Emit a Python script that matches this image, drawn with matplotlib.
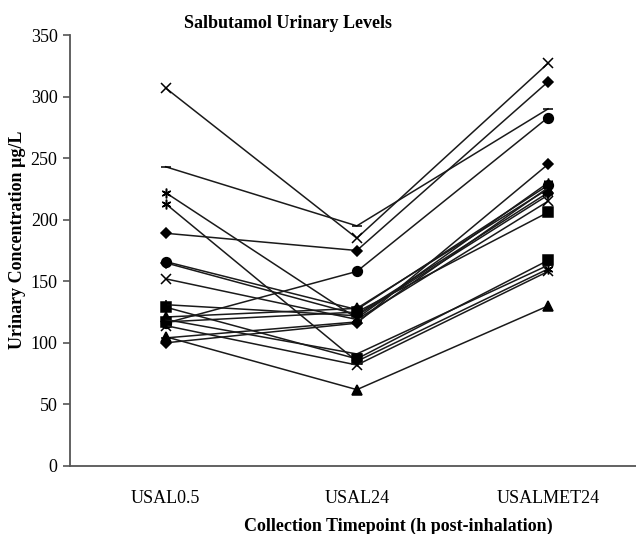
import matplotlib
matplotlib.use('Agg')
import matplotlib.pyplot as plt

plt.rcParams['font.family'] = ['Liberation Serif', 'DejaVu Serif']

# collection timepoints
timepoints = ['USAL0.5', 'USAL24', 'USALMET24']

# one row per subject: USAL0.5, USAL24, USALMET24 (ug/L)
subj_x1 = [307, 185, 327]
subj_dash1 = [243, 195, 290]
subj_star1 = [222, 120, 230]
subj_star2 = [213, 85, 160]
subj_dia1 = [189, 175, 312]
subj_circ1 = [166, 127, 228]
subj_dia2 = [165, 123, 222]
subj_x2 = [152, 119, 215]
subj_sq1 = [129, 87, 167]
subj_plus1 = [131, 122, 220]
subj_tri1 = [121, 128, 225]
subj_circ2 = [116, 158, 283]
subj_sq2 = [117, 125, 206]
subj_x3 = [114, 82, 158]
subj_dash2 = [119, 91, 163]
subj_tri2 = [105, 62, 130]
subj_plus2 = [104, 117, 226]
subj_dia3 = [100, 116, 245]

subjects = [
    (subj_x1, 'x'), (subj_dash1, '_'), (subj_star1, (6, 2, 0)), (subj_star2, (6, 2, 0)),
    (subj_dia1, 'D'), (subj_circ1, 'o'), (subj_dia2, 'D'), (subj_x2, 'x'),
    (subj_sq1, 's'), (subj_plus1, '+'), (subj_tri1, '^'), (subj_circ2, 'o'),
    (subj_sq2, 's'), (subj_x3, 'x'), (subj_dash2, '_'), (subj_tri2, '^'),
    (subj_plus2, '+'), (subj_dia3, 'D'),
]

fig = plt.figure(figsize=(6.36, 5.34), dpi=100)
ax = fig.add_axes([70 / 636, 68 / 534, 566 / 636, 431 / 534])

xs = range(len(timepoints))
for vals, mk in subjects:
    size = 5 if mk == 'D' else 7
    ax.plot(xs, vals, color='#1a1a1a', lw=1.1, marker=mk, ms=size,
            mfc='black', mec='black', mew=1.1)

ax.set_xlim(-0.5, 2.46)
ax.set_ylim(0, 350)
ax.set_yticks(range(0, 351, 50))
ax.set_xticks(list(xs))
ax.set_xticklabels(timepoints)

for side in ['top', 'right']:
    ax.spines[side].set_visible(False)
for side in ['left', 'bottom']:
    ax.spines[side].set_color('#555555')
    ax.spines[side].set_linewidth(1.3)

ax.tick_params(axis='y', direction='out', length=5, width=1.2, color='#555555',
               labelsize=13, pad=4)
ax.tick_params(axis='x', length=0, labelsize=13, pad=17)

fig.text(288 / 636, 1 - 24 / 534, 'Salbutamol Urinary Levels', ha='center', va='center',
         fontsize=13, fontweight='bold')
fig.text(398 / 636, 1 - 526 / 534, 'Collection Timepoint (h post-inhalation)', ha='center',
         va='center', fontsize=13, fontweight='bold')
fig.text(18 / 636, 1 - 240 / 534, 'Urinary Concentration µg/L', ha='center', va='center',
         rotation=90, fontsize=13, fontweight='bold')

plt.savefig('out.png', dpi=100)
plt.close()
